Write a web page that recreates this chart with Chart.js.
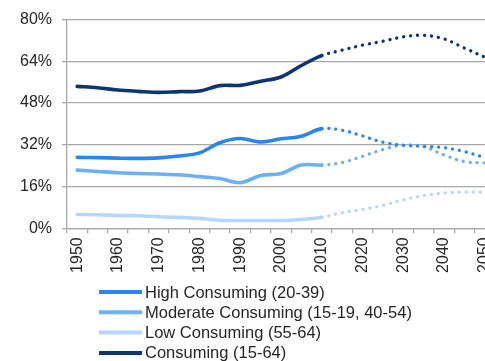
<!DOCTYPE html>
<html>
<head>
<meta charset="utf-8">
<script src="https://cdn.jsdelivr.net/npm/chart.js@4/dist/chart.umd.min.js"></script>
<style>
  html, body { margin: 0; padding: 0; overflow: hidden; background: #fff; }
  #wrap { width: 500px; height: 361px; }
</style>
</head>
<body>
<div id="wrap"><canvas id="chart" width="500" height="361"></canvas></div>
<script>
// Share of population by consuming age group, 1950-2050 (5-year steps)
const years = ['1950','1955','1960','1965','1970','1975','1980','1985','1990','1995','2000',
               '2005','2010','2015','2020','2025','2030','2035','2040','2045','2050'];
const highConsuming = [27.2, 27.1, 26.9, 26.8, 27.0, 27.7, 28.9, 32.8, 34.4, 33.1, 34.3,
                       35.3, 38.2, 37.6, 35.4, 33.0, 31.8, 31.4, 30.9, 29.4, 27.1];
const moderateConsuming = [22.3, 21.8, 21.3, 21.0, 20.8, 20.5, 19.8, 19.1, 17.5, 20.2, 21.0,
                           24.3, 24.2, 25.2, 27.6, 30.2, 31.9, 31.3, 28.1, 25.6, 25.1];
const lowConsuming = [5.3, 5.2, 4.9, 4.8, 4.4, 4.2, 3.8, 3.1, 3.0, 3.0, 3.0,
                      3.4, 4.2, 6.0, 7.2, 8.8, 10.9, 12.5, 13.5, 13.9, 13.8];
const consuming = [54.4, 53.9, 53.0, 52.5, 52.1, 52.4, 52.6, 54.7, 54.8, 56.4, 58.0,
                   62.4, 66.2, 68.3, 70.2, 71.7, 73.4, 74.0, 72.6, 69.1, 65.6];
const seriesLabels = ['High Consuming (20-39)', 'Moderate Consuming (15-19, 40-54)',
                      'Low Consuming (55-64)', 'Consuming (15-64)'];
const yTicks = [0, 16, 32, 48, 64, 80];
const firstProjectedYear = '2010';

const FONT = { family: '"Liberation Sans", Arial, sans-serif', size: 16 };
const TEXT = '#262626';
const GRID = '#a8a8a8';
const projStart = years.indexOf(firstProjectedYear);

// projections (from 2010 on) are drawn as round dots
const isProjected = ctx => ctx.p0DataIndex >= projStart;
const segmentStyle = {
  borderDash: ctx => isProjected(ctx) ? [0.1, 6.9] : undefined,
  borderWidth: ctx => isProjected(ctx) ? 3.3 : undefined
};

function series(label, data, color) {
  return {
    label, data,
    borderColor: color,
    backgroundColor: color,
    borderWidth: 3.6,
    borderCapStyle: 'round',
    borderJoinStyle: 'round',
    pointRadius: 0,
    tension: 0.35,
    fill: false,
    segment: segmentStyle
  };
}

// legend drawn one entry per row under the axis
const rowLegend = {
  id: 'rowLegend',
  afterDraw(chart, args, opts) {
    const ctx = chart.ctx;
    ctx.save();
    ctx.font = `${opts.fontSize}px ${FONT.family}`;
    ctx.textBaseline = 'middle';
    ctx.textAlign = 'left';
    chart.data.datasets.forEach((ds, i) => {
      const y = opts.top + i * opts.rowHeight;
      ctx.strokeStyle = ds.borderColor;
      ctx.lineWidth = 4;
      ctx.lineCap = 'butt';
      ctx.beginPath();
      ctx.moveTo(opts.left, y);
      ctx.lineTo(opts.left + opts.lineLength, y);
      ctx.stroke();
      ctx.fillStyle = TEXT;
      ctx.fillText(ds.label, opts.left + opts.lineLength + 3, y + 1);
    });
    ctx.restore();
  }
};

new Chart(document.getElementById('chart'), {
  type: 'line',
  data: {
    labels: years,
    datasets: [
      series(seriesLabels[0], highConsuming, '#2a86ee'),
      series(seriesLabels[1], moderateConsuming, '#6cb0f6'),
      series(seriesLabels[2], lowConsuming, '#b6d7fb'),
      series(seriesLabels[3], consuming, '#0d3570')
    ]
  },
  options: {
    responsive: false,
    animation: false,
    layout: { padding: { top: 17, right: 5, bottom: 87.7, left: 0 } },
    plugins: {
      legend: { display: false },
      tooltip: { enabled: false },
      rowLegend: { left: 99, top: 292, rowHeight: 20.3, lineLength: 43, fontSize: 16.5 }
    },
    scales: {
      x: {
        type: 'category',
        offset: true,
        afterFit: s => { s.height = 45; s.paddingLeft = 0; s.paddingRight = 0; },
        grid: { drawOnChartArea: false, drawTicks: true, tickLength: 5, offset: true,
                color: GRID, lineWidth: 1.3 },
        border: { color: GRID, width: 1.3 },
        ticks: {
          autoSkip: false, minRotation: 90, maxRotation: 90, padding: 4,
          color: TEXT, font: FONT,
          callback: (v, i) => (Number(years[i]) % 10 === 0 ? years[i] : '')
        }
      },
      y: {
        min: yTicks[0],
        max: yTicks[yTicks.length - 1],
        afterFit: s => { s.width = 67; },
        afterBuildTicks: s => { s.ticks = yTicks.map(v => ({ value: v })); },
        grid: { color: GRID, lineWidth: 1.3, tickLength: 5, drawTicks: true },
        border: { color: GRID, width: 1.3 },
        ticks: { padding: 10, color: TEXT, font: FONT, callback: v => v + '%' }
      }
    }
  },
  plugins: [rowLegend]
});
</script>
</body>
</html>
